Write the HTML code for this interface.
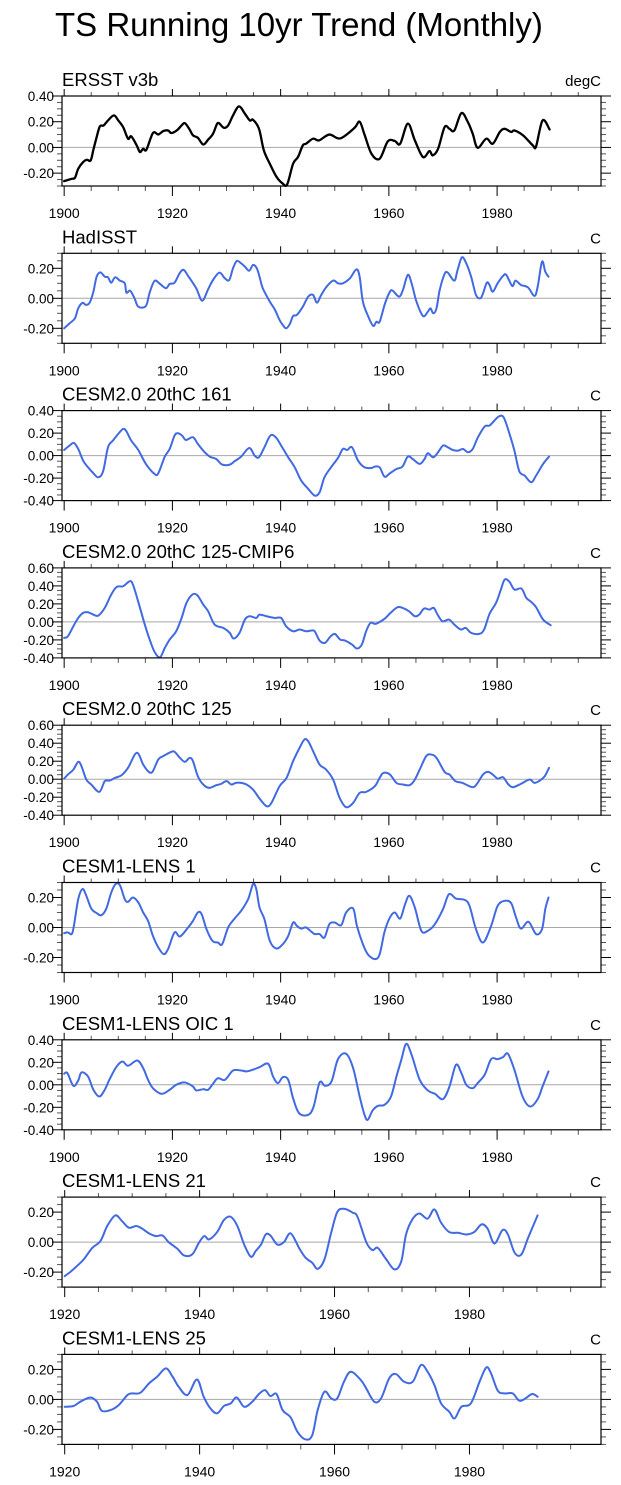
<!DOCTYPE html>
<html>
<head>
<meta charset="utf-8">
<style>
html,body{margin:0;padding:0;background:#fff;}
svg{display:block;font-family:"Liberation Sans",Arial,sans-serif;}
</style>
</head>
<body>
<svg id="chart" width="621" height="1485" viewBox="0 0 621 1485" xmlns="http://www.w3.org/2000/svg">
<rect x="0" y="0" width="621" height="1485" fill="#fff"/>
<text x="55" y="36" font-size="33" fill="#000">TS Running 10yr Trend (Monthly)</text>
</svg>
<script>
// ---- data ----
const ersstYears = [1900,1901.4,1902,1902.6,1903.5,1904.2,1904.9,1905.4,1906,1906.6,1907.3,1908.1,1909.2,1910,1910.9,1911.8,1912.4,1913.4,1914,1914.6,1915.2,1916.4,1917.4,1918.3,1919.2,1919.8,1920.8,1921.7,1922.3,1923.1,1923.8,1924.7,1925.7,1926.6,1927.5,1928.2,1928.6,1929.5,1930.3,1931.2,1932.3,1933.4,1934.3,1934.9,1936,1936.9,1938,1939.2,1940.3,1941.2,1942.3,1943.2,1944.1,1944.7,1946,1947.1,1949,1951,1953.6,1954.6,1955.5,1956.8,1958.3,1959.8,1961.1,1962.1,1963.5,1964.8,1966.3,1967.5,1968.1,1969.1,1970.3,1971.2,1972.1,1973.4,1974.6,1975.5,1976.4,1978,1979.2,1980.5,1981.4,1982.6,1983.2,1984.8,1986.6,1987.2,1988.4,1989.7];
const ersstValues = [-0.262,-0.244,-0.236,-0.166,-0.114,-0.096,-0.101,-0.018,0.08,0.164,0.171,0.21,0.249,0.21,0.158,0.068,0.086,0.016,-0.036,-0.01,-0.018,0.112,0.101,0.127,0.132,0.112,0.132,0.171,0.189,0.145,0.094,0.075,0.023,0.06,0.106,0.179,0.189,0.153,0.171,0.249,0.319,0.262,0.21,0.215,0.145,-0.023,-0.127,-0.226,-0.278,-0.288,-0.127,-0.075,0.016,0.029,0.068,0.055,0.1,0.07,0.15,0.2,0.1,-0.05,-0.088,0.047,0.05,0.029,0.185,0.055,-0.075,-0.028,-0.062,-0.01,0.158,0.145,0.132,0.267,0.197,0.106,-0.003,0.068,0.029,0.12,0.145,0.12,0.132,0.094,0.016,0.008,0.21,0.14];

const hadYears = [1900,1901,1902,1902.6,1903.4,1904,1904.7,1905.4,1906,1906.7,1907.5,1908.1,1908.7,1909.4,1910.3,1911.2,1911.5,1912.2,1913,1913.7,1915.1,1915.8,1916.7,1917.7,1918.8,1919.5,1920.4,1921.4,1922.1,1922.9,1924.4,1925.5,1926.6,1927.5,1928.7,1929.7,1930.5,1931.2,1931.9,1932.7,1933.4,1934.2,1934.9,1935.6,1936.1,1936.7,1938,1938.9,1939.8,1940.4,1941,1941.7,1942.3,1943,1944.1,1945.1,1946,1946.7,1947.5,1948.4,1949.7,1950.6,1951.5,1952.8,1954,1954.6,1955.2,1956.2,1957.1,1957.7,1958.3,1959.3,1960.2,1960.7,1961.9,1962.6,1963.5,1964.2,1965.1,1966.3,1967.2,1967.7,1968.2,1968.8,1969.4,1970.3,1970.9,1972.1,1972.7,1973.5,1974.3,1975.2,1976.1,1976.9,1977.4,1978.1,1978.6,1979.2,1980.1,1981.1,1981.7,1982.8,1983.4,1984.4,1985.7,1986.9,1987.5,1988.3,1988.9,1989.5];
const hadValues = [-0.2,-0.167,-0.133,-0.067,-0.03,-0.044,-0.03,0.044,0.144,0.173,0.144,0.14,0.104,0.14,0.118,0.1,0.038,0.051,0,-0.056,-0.051,0.038,0.116,0.096,0.067,0.096,0.104,0.171,0.189,0.149,0.067,-0.016,0.06,0.122,0.171,0.133,0.122,0.2,0.249,0.233,0.211,0.184,0.222,0.2,0.144,0.067,-0.022,-0.073,-0.144,-0.178,-0.2,-0.171,-0.118,-0.111,-0.056,0.011,0.022,-0.029,0.022,0.073,0.118,0.1,0.1,0.133,0.193,0.144,-0.022,-0.122,-0.184,-0.156,-0.156,-0.033,0.044,0.051,0.011,0.056,0.156,0.1,-0.022,-0.118,-0.089,-0.067,-0.1,-0.067,0.056,0.162,0.171,0.118,0.189,0.273,0.233,0.144,0.022,0,0.033,0.104,0.089,0.044,0.1,0.149,0.156,0.082,0.118,0.089,0.073,0.016,0.078,0.244,0.178,0.144];

const c161Years = [1900,1901,1901.8,1902.6,1903.5,1904.4,1905.4,1906.3,1907.2,1908.1,1909,1910,1910.9,1911.5,1912.4,1913.7,1915.1,1916.7,1917.4,1918.6,1919.5,1920.4,1921,1921.8,1922.5,1923.8,1924.7,1925.7,1926.9,1928.1,1929.2,1930.6,1931.5,1932.7,1934.2,1935.2,1936,1937,1938.1,1939.1,1940.1,1941.4,1942.6,1943.8,1945.1,1946.3,1947.2,1948.1,1949.4,1950.6,1951.5,1952.3,1953.2,1954.3,1955.5,1956.8,1957.4,1958.3,1959.2,1960.2,1961.4,1962.5,1963.5,1964.4,1965.7,1966.6,1967.2,1968.2,1969.1,1970,1970.9,1971.8,1972.8,1973.7,1974.6,1975.5,1976.4,1977.7,1978.6,1979.5,1980.3,1981.2,1982.3,1983.2,1984.1,1985.1,1986.3,1987.2,1988.5,1989.6];
const c161Values = [0.05,0.089,0.113,0.059,-0.044,-0.104,-0.157,-0.193,-0.139,0.074,0.133,0.193,0.237,0.216,0.133,0.05,-0.074,-0.163,-0.157,-0.009,0.059,0.178,0.199,0.178,0.139,0.163,0.104,0.044,-0.009,-0.03,-0.08,-0.08,-0.05,-0.009,0.068,0,-0.015,0.074,0.178,0.163,0.089,-0.015,-0.104,-0.222,-0.296,-0.356,-0.326,-0.193,-0.098,-0.021,0.059,0.05,0.074,-0.044,-0.104,-0.11,-0.098,-0.104,-0.187,-0.157,-0.119,-0.098,-0.009,-0.03,-0.074,-0.03,0.021,-0.015,0.03,0.089,0.074,0.05,0.044,0.059,0.03,0.059,0.157,0.258,0.267,0.311,0.347,0.341,0.193,0.044,-0.139,-0.178,-0.237,-0.178,-0.074,-0.009];

const cmip6Years = [1900,1900.7,1901.7,1902.6,1903.5,1904.4,1905.4,1906.3,1907.5,1908.7,1909.7,1910.9,1912.1,1912.7,1913.7,1914.9,1915.8,1916.7,1917.7,1918.6,1919.5,1920.7,1921.7,1922.6,1923.7,1924.6,1925.7,1926.6,1927.8,1929.4,1930.6,1931.3,1932.4,1933.4,1934.3,1935.5,1936.1,1937.4,1938.9,1940.1,1941,1942.3,1943.5,1944.7,1945.7,1946.3,1947.2,1948.2,1949.1,1950,1951,1951.9,1953.2,1954.1,1955,1955.8,1956.6,1957.5,1958.5,1959.4,1960.3,1961.6,1962.5,1963.7,1964.8,1965.6,1966.5,1967.5,1968.3,1969,1969.9,1971.1,1972.1,1973.3,1974.2,1975.2,1976.7,1977.6,1978.6,1979.8,1980.6,1981.4,1982.3,1983.2,1984.5,1985.4,1986.3,1987.2,1988.5,1989.9];
const cmip6Values = [-0.178,-0.159,-0.048,0.044,0.1,0.107,0.081,0.07,0.156,0.304,0.389,0.396,0.452,0.415,0.222,-0.03,-0.196,-0.333,-0.393,-0.289,-0.196,-0.104,0.044,0.211,0.304,0.296,0.193,0.119,-0.03,-0.067,-0.122,-0.185,-0.122,0.026,0.063,0.044,0.081,0.063,0.044,0.044,-0.048,-0.104,-0.085,-0.104,-0.096,-0.104,-0.207,-0.233,-0.17,-0.133,-0.196,-0.207,-0.252,-0.296,-0.252,-0.104,-0.011,-0.022,0.007,0.044,0.1,0.163,0.156,0.119,0.063,0.081,0.148,0.137,0.156,0.081,0.007,0.026,-0.03,-0.085,-0.067,-0.122,-0.133,-0.085,0.089,0.211,0.341,0.47,0.444,0.359,0.37,0.267,0.222,0.163,0.026,-0.037];

const c125Years = [1900,1900.7,1901.7,1902.6,1903.2,1904.1,1905,1906.5,1907.5,1908.4,1909.4,1910.6,1911.8,1913.4,1914.6,1915.5,1916.3,1917.4,1918.3,1919.8,1920.4,1921.4,1922.3,1923.2,1923.8,1924.7,1925.7,1926.8,1928.1,1929,1930,1930.9,1931.7,1932.7,1933.7,1934.9,1936.1,1937.4,1938.3,1939.8,1941.1,1942.3,1943.5,1944.4,1945.1,1946,1947.2,1948.4,1949.7,1950.9,1952.1,1953.4,1954.6,1955.8,1957.4,1958.3,1959,1960.2,1961.4,1962.6,1963.8,1964.7,1965.7,1966.9,1967.8,1968.8,1970.3,1971.2,1972.3,1973.6,1975.5,1976.4,1977.4,1978.3,1979.2,1980.1,1981.1,1982,1982.9,1984.4,1986,1986.9,1987.9,1988.8,1989.6];
const c125Values = [0.007,0.052,0.107,0.193,0.144,-0.004,-0.059,-0.141,-0.022,-0.015,0.015,0.044,0.126,0.293,0.163,0.089,0.081,0.219,0.256,0.304,0.304,0.237,0.193,0.237,0.2,0.033,-0.059,-0.096,-0.067,-0.052,-0.022,-0.059,-0.041,-0.041,-0.059,-0.115,-0.215,-0.3,-0.263,-0.078,0.015,0.2,0.348,0.441,0.422,0.311,0.163,0.107,-0.004,-0.207,-0.311,-0.263,-0.152,-0.141,-0.078,0.015,0.07,0.052,-0.041,-0.059,-0.067,-0.015,0.107,0.256,0.274,0.237,0.081,0.052,-0.022,-0.041,-0.089,-0.041,0.052,0.081,0.052,0.007,0.022,-0.052,-0.089,-0.052,-0.004,-0.041,-0.015,0.033,0.126];

const lens1Years = [1900,1900.7,1901.4,1901.8,1902.6,1903.4,1904.1,1905,1906,1906.9,1907.8,1908.7,1909.5,1910.3,1911.2,1911.8,1912.7,1913.7,1914.6,1915.5,1916.4,1917.4,1918.4,1919.2,1920.4,1921.4,1922.9,1923.8,1924.7,1925.4,1926.3,1927.4,1928.4,1929.2,1930.3,1931.5,1932.7,1934,1934.9,1935.5,1936.1,1937,1938,1939.2,1940.4,1941.4,1942.3,1943,1943.8,1944.7,1945.7,1946.3,1947.2,1948.1,1949,1950,1951.2,1952.1,1953.4,1954.1,1955.2,1956.1,1957.4,1958.3,1959.2,1960.2,1961.1,1962.1,1963,1963.8,1964.8,1966,1967.2,1968.5,1970,1971.1,1972.4,1974,1974.9,1976.1,1977.4,1978.9,1980.1,1981.4,1982.6,1983.5,1984.4,1985.8,1987.2,1988.3,1988.9,1989.5];
const lens1Values = [-0.038,-0.033,-0.044,0.011,0.189,0.256,0.211,0.127,0.096,0.082,0.127,0.233,0.289,0.282,0.189,0.171,0.2,0.167,0.1,0.044,-0.056,-0.133,-0.178,-0.144,-0.033,-0.06,0,0.044,0.1,0.089,-0.011,-0.089,-0.1,-0.111,0,0.06,0.111,0.189,0.289,0.256,0.133,0.056,-0.089,-0.14,-0.111,-0.056,0.033,0.011,-0.007,0,-0.029,-0.044,-0.044,-0.067,0.022,0.033,0.016,0.1,0.127,0.011,-0.111,-0.178,-0.211,-0.178,-0.029,0.067,0.1,0.06,0.156,0.211,0.133,-0.022,-0.022,0.022,0.122,0.222,0.193,0.184,0.144,-0.011,-0.1,0.011,0.144,0.178,0.162,0.067,-0.007,0.038,-0.044,-0.011,0.122,0.2];

const oicYears = [1900,1900.6,1901.7,1902.6,1903.2,1904.4,1905.4,1906.5,1907.5,1908.4,1909.7,1910.8,1911.8,1913.5,1914.6,1915.5,1916.4,1918,1919.5,1920.7,1922.3,1923.8,1924.4,1925.7,1926.6,1927.5,1928.4,1929.7,1931.2,1932.7,1933.7,1934.8,1936.1,1937.7,1938.6,1939.5,1940.4,1941.4,1942.3,1943.4,1945.1,1946.1,1947.2,1948.2,1949.4,1950.6,1952.1,1953.4,1954.6,1955.5,1956.1,1957,1958,1959.2,1960.4,1961.4,1962.3,1963.2,1964.2,1965.7,1967.2,1968.5,1970,1971.2,1972.4,1973.4,1974.3,1975.5,1976.4,1977.7,1978.9,1980.1,1981.1,1982,1983.2,1984.7,1986.1,1987.5,1988.4,1989.5];
const oicValues = [0.098,0.104,-0.009,0.039,0.11,0.074,-0.044,-0.104,-0.044,0.05,0.163,0.207,0.169,0.216,0.148,0.044,-0.03,-0.08,-0.044,0,0.021,-0.015,-0.05,-0.039,-0.044,0.009,0.059,0.044,0.127,0.127,0.119,0.133,0.157,0.187,0.074,0.015,0.068,0.044,-0.119,-0.252,-0.267,-0.193,0.021,-0.009,0.03,0.228,0.276,0.148,-0.104,-0.267,-0.311,-0.228,-0.187,-0.178,-0.104,0.074,0.222,0.364,0.267,0.044,-0.05,-0.08,-0.127,-0.015,0.178,0.104,0,-0.03,0.015,0.089,0.228,0.228,0.246,0.276,0.133,-0.104,-0.193,-0.127,-0.015,0.119];

const lens21Years = [1920,1920.8,1921.8,1922.8,1924.1,1925.3,1926.3,1927.5,1928.5,1929.5,1930.6,1931.5,1932.5,1933.5,1934.5,1935.4,1936.7,1937.7,1938.9,1939.9,1940.7,1941.4,1942.6,1943.6,1944.6,1945.6,1946.6,1947.6,1948.3,1949.1,1949.8,1950.5,1951.5,1952.5,1953.5,1954.8,1955.7,1956.7,1957.5,1958.5,1959.5,1960.4,1961.4,1962.7,1963.4,1964.7,1965.6,1966.4,1967.6,1968.9,1969.9,1970.6,1971.6,1972.6,1973.8,1974.8,1975.8,1977,1978.3,1979.5,1980.7,1981.8,1982.7,1983.7,1984.9,1985.7,1986.7,1987.7,1988.7,1990.1];
const lens21Values = [-0.227,-0.2,-0.16,-0.116,-0.038,0.007,0.107,0.178,0.14,0.096,0.107,0.089,0.058,0.04,0.044,0,-0.044,-0.089,-0.082,-0.004,0.04,0.018,0.067,0.147,0.169,0.107,-0.016,-0.098,-0.06,-0.016,0.051,0.044,-0.016,0,0.058,-0.044,-0.104,-0.138,-0.178,-0.116,0.062,0.2,0.222,0.196,0.169,0,-0.053,-0.038,-0.111,-0.182,-0.127,0.051,0.156,0.191,0.156,0.218,0.129,0.067,0.062,0.051,0.067,0.118,0.089,-0.009,0.08,0.051,-0.071,-0.082,0.029,0.178];

const lens25Years = [1920,1921.3,1922.3,1923.8,1924.8,1925.5,1926.8,1928,1929.3,1930,1931.2,1932.5,1933.7,1935,1936,1936.9,1938.2,1939.6,1940.6,1941.6,1942.6,1943.6,1944.6,1945.5,1946.6,1947.8,1948.8,1949.7,1950.5,1951.4,1952.3,1953.5,1954.5,1955.7,1956.7,1957.5,1958.5,1959.5,1960.4,1961.4,1962.4,1963.9,1964.7,1965.9,1966.9,1968.1,1969.1,1970.3,1971.6,1972.8,1973.8,1974.8,1975.8,1977,1977.8,1978.8,1980.2,1981.5,1982.5,1983.2,1984.2,1985.2,1986.4,1987.4,1988.3,1989.3,1990.1];
const lens25Values = [-0.049,-0.044,-0.016,0.013,-0.016,-0.076,-0.071,-0.038,0.029,0.04,0.044,0.107,0.151,0.207,0.151,0.084,0.029,0.133,0.018,-0.06,-0.093,-0.044,-0.027,0.013,-0.049,-0.016,0.036,0.062,0.022,0.036,-0.071,-0.12,-0.216,-0.267,-0.238,-0.071,0.051,0.007,0.007,0.118,0.184,0.129,0.073,-0.016,0.007,0.14,0.169,0.118,0.118,0.229,0.184,0.096,-0.027,-0.082,-0.127,-0.049,-0.027,0.118,0.213,0.173,0.058,0.04,0.04,-0.009,0.007,0.036,0.018];

const panelTitles = ["ERSST v3b","HadISST","CESM2.0 20thC 161","CESM2.0 20thC 125-CMIP6","CESM2.0 20thC 125","CESM1-LENS 1","CESM1-LENS OIC 1","CESM1-LENS 21","CESM1-LENS 25"];
const panelUnits = ["degC","C","C","C","C","C","C","C","C"];
const panelYMin = [-0.3,-0.3,-0.4,-0.4,-0.4,-0.3,-0.4,-0.3,-0.3];
const panelYMax = [0.4,0.3,0.4,0.6,0.6,0.3,0.4,0.3,0.3];
const panelXMin = [1899.6,1899.6,1899.6,1899.6,1899.6,1899.6,1899.6,1919.6,1919.6];
const panelXMax = [1999.2,1999.2,1999.2,1999.2,1999.2,1999.2,1999.2,1999.5,1999.5];
const panelXLabels = [[1900,1920,1940,1960,1980],[1900,1920,1940,1960,1980],[1900,1920,1940,1960,1980],[1900,1920,1940,1960,1980],[1900,1920,1940,1960,1980],[1900,1920,1940,1960,1980],[1900,1920,1940,1960,1980],[1920,1940,1960,1980],[1920,1940,1960,1980]];
const panelSeriesYears = [ersstYears,hadYears,c161Years,cmip6Years,c125Years,lens1Years,oicYears,lens21Years,lens25Years];
const panelSeriesValues = [ersstValues,hadValues,c161Values,cmip6Values,c125Values,lens1Values,oicValues,lens21Values,lens25Values];
const panelSlugs = ["ersst-v3b","hadisst","cesm2-161","cesm2-125-cmip6","cesm2-125","cesm1-lens-1","cesm1-lens-oic-1","cesm1-lens-21","cesm1-lens-25"];

// ---- drawing ----
const NS = "http://www.w3.org/2000/svg";
const svg = document.getElementById("chart");
const L = 62, R = 601, H = 90, TOP0 = 96, GAP = 157.3;

function mk(tag, attrs, parent) {
  const e = document.createElementNS(NS, tag);
  for (const k in attrs) e.setAttribute(k, attrs[k]);
  parent.appendChild(e);
  return e;
}

function smoothPath(pts) {
  let d = "M" + pts[0][0].toFixed(2) + "," + pts[0][1].toFixed(2);
  for (let i = 0; i < pts.length - 1; i++) {
    const p0 = pts[Math.max(0, i - 1)], p1 = pts[i], p2 = pts[i + 1], p3 = pts[Math.min(pts.length - 1, i + 2)];
    const c1x = p1[0] + (p2[0] - p0[0]) / 6, c1y = p1[1] + (p2[1] - p0[1]) / 6;
    const c2x = p2[0] - (p3[0] - p1[0]) / 6, c2y = p2[1] - (p3[1] - p1[1]) / 6;
    d += "C" + c1x.toFixed(2) + "," + c1y.toFixed(2) + " " + c2x.toFixed(2) + "," + c2y.toFixed(2) + " " + p2[0].toFixed(2) + "," + p2[1].toFixed(2);
  }
  return d;
}

for (let p = 0; p < 9; p++) {
  const T = TOP0 + p * GAP, B = T + H;
  const x0 = panelXMin[p], x1 = panelXMax[p], y0 = panelYMin[p], y1 = panelYMax[p];
  const xs = v => L + (v - x0) / (x1 - x0) * (R - L);
  const ys = v => B - (v - y0) / (y1 - y0) * H;

  const g = mk("g", {}, svg);
  
  

  const title = mk("text", {x: L, y: T - 10, "font-size": 18.5, fill: "#000"}, g);
  title.textContent = panelTitles[p];
  
  

  const unit = mk("text", {x: R, y: T - 10, "font-size": 15, fill: "#000", "text-anchor": "end"}, g);
  unit.textContent = panelUnits[p];
  
  

  // zero reference line
  const zl = mk("line", {x1: L, x2: R, y1: ys(0), y2: ys(0), stroke: "#a8a8a8", "stroke-width": 1}, g);
  
  

  // series
  const yrs = panelSeriesYears[p], vals = panelSeriesValues[p];
  const pts = yrs.map((yv, i) => [xs(yv), ys(vals[i])]);
  const line = mk("path", {d: smoothPath(pts), fill: "none", stroke: p === 0 ? "#000" : "#4169e1", "stroke-width": p === 0 ? 2.3 : 2, "stroke-linejoin": "round", "stroke-linecap": "round"}, g);
  
  

  // ticks
  const tg = mk("g", {stroke: "#000", "stroke-width": 1}, g);
  
  
  for (let yr = Math.ceil(x0 / 5) * 5; yr <= x1; yr += 5) {
    const X = xs(yr), major = (yr % 20 === 0);
    mk("line", {x1: X, x2: X, y1: B, y2: B + (major ? 10 : 5), stroke: major ? "#000" : "#555"}, tg);
    mk("line", {x1: X, x2: X, y1: T, y2: T - (major ? 7 : 4), stroke: major ? "#000" : "#555"}, tg);
  }
  const nMin = Math.round(y0 / 0.05), nMax = Math.round(y1 / 0.05);
  for (let n = nMin; n <= nMax; n++) {
    const Y = ys(n * 0.05), major = (n % 4 === 0);
    mk("line", {x1: L, x2: L - (major ? 10 : 5), y1: Y, y2: Y, stroke: major ? "#000" : "#555"}, tg);
    mk("line", {x1: R, x2: R + (major ? 10 : 5), y1: Y, y2: Y, stroke: major ? "#000" : "#555"}, tg);
    if (major) {
      const t = mk("text", {x: 54, y: Y + 5, "font-size": 13.5, fill: "#000", "text-anchor": "end", stroke: "none"}, g);
      t.textContent = (n * 0.05).toFixed(2);
      
      
    }
  }
  panelXLabels[p].forEach(yr => {
    const t = mk("text", {x: xs(yr), y: B + 32, "font-size": 14, fill: "#000", "text-anchor": "middle"}, g);
    t.textContent = String(yr);
    
    
  });

  // frame
  const fr = mk("rect", {x: L, y: T, width: R - L, height: H, fill: "none", stroke: "#000", "stroke-width": 1.2}, g);
  
  
}
</script>
</body>
</html>
